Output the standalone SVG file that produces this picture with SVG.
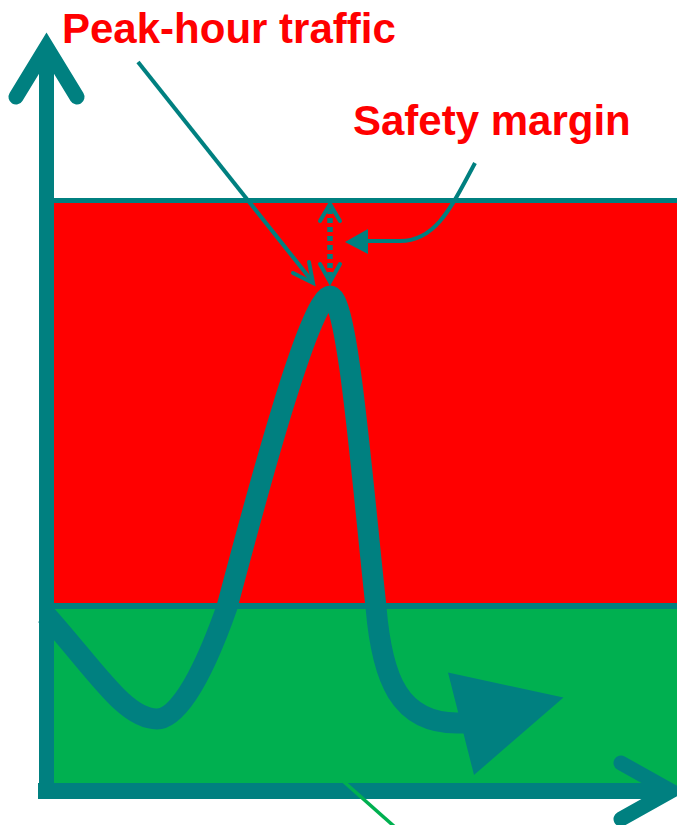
<svg xmlns="http://www.w3.org/2000/svg" width="677" height="825" viewBox="0 0 677 825">
  <style>
    .lbl { font-family: "Liberation Sans", Arial, sans-serif; font-weight: bold; font-size: 42px; fill: #FF0000; }
    .teal { stroke: #008080; fill: none; }
  </style>
  <rect width="677" height="825" fill="#FFFFFF"/>
  <g id="zones">
    <rect x="54" y="198" width="623" height="411" fill="#FF0000"/>
    <rect x="54" y="606" width="623" height="180" fill="#00B050"/>
    <line class="teal" x1="54" y1="200.5" x2="677" y2="200.5" stroke-width="5"/>
    <line class="teal" x1="54" y1="606" x2="677" y2="606" stroke-width="6"/>
  </g>
  <g id="traffic-curve">
    <path class="teal" stroke-width="21" d="M 46 615 C 97 672, 125 719, 157 719 C 185 719, 214 644, 227 607 C 245 540, 308 296, 330 296 C 348 296, 362 480, 376 607 C 382 680, 400 723, 457 723 L 468 723"/>
    <polygon points="448,672.5 563.5,697.5 474,775" fill="#008080"/>
  </g>
  <g id="axes">
    <line class="teal" x1="46.5" y1="45" x2="46.5" y2="799" stroke-width="15"/>
    <line class="teal" x1="38" y1="791" x2="672" y2="791" stroke-width="16"/>
    <polyline class="teal" points="16,97 46.5,47 77,97" stroke-width="15" stroke-linecap="round" stroke-linejoin="miter"/>
    <polyline class="teal" points="621,763 671,791 621,819" stroke-width="15" stroke-linecap="round" stroke-linejoin="miter"/>
  </g>
  <g id="connectors">
    <line x1="343" y1="781" x2="396" y2="828" stroke="#00B050" stroke-width="3.5"/>
    <line class="teal" x1="138" y1="62" x2="312" y2="281" stroke-width="4"/>
    <polyline class="teal" points="293,273 313,283 309,262" stroke-width="4" stroke-linecap="round" stroke-linejoin="miter"/>
    <line class="teal" x1="330" y1="209" x2="330" y2="278" stroke-width="5.5" stroke-dasharray="5 4"/>
    <polyline class="teal" points="320,221 330,204 340,221" stroke-width="4" stroke-linecap="round"/>
    <polyline class="teal" points="320,264 330,282 340,264" stroke-width="4" stroke-linecap="round"/>
    <path class="teal" stroke-width="4" d="M 475 163 C 450 210, 435 241, 400 241 L 366 241"/>
    <polygon points="345,242 368,229 368,254" fill="#008080"/>
  </g>
  <g id="label-peak">
    <text class="lbl" x="62" y="43">Peak-hour traffic</text>
  </g>
  <g id="label-safety">
    <text class="lbl" x="353" y="135">Safety margin</text>
  </g>
</svg>
